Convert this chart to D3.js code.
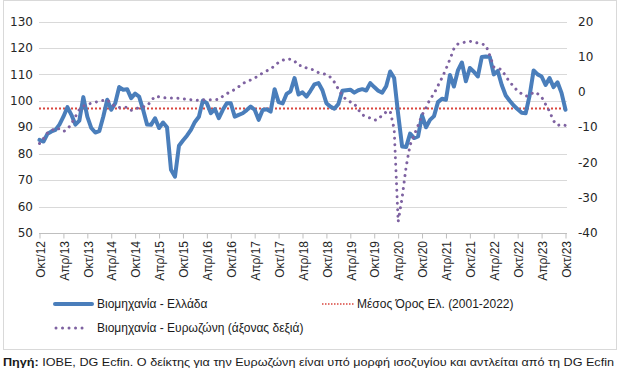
<!DOCTYPE html>
<html><head><meta charset="utf-8">
<script src="https://cdn.jsdelivr.net/npm/d3@7"></script>
<style>body{margin:0;background:#fff}svg{display:block}</style>
</head><body>
<script>
// Monthly data, Oct 2012 .. Oct 2023 (133 months)
const greece = [
 85.2,84.6,87.5,88.4,89,91,94,97.6,94.7,91,92.5,101.4,
 94,89.7,88,88.5,94,100.4,96.6,99.1,105.2,104.2,104.4,101,
 102.7,101.6,96.6,91,90.9,93.4,89.7,91.8,90,73.9,71.3,83,
 85,86.8,89,92,94,100.1,99.1,95.3,96.9,93.4,96.6,99.1,
 99.1,94,94.7,95.3,96.5,97.8,96.6,92.8,96.5,96.8,95.9,104.4,
 99.5,99,102.6,103.6,108.6,102.4,103.2,101.6,103.8,106.2,106.7,104,
 99.1,97.8,97,98.8,103.8,104,104.2,103.1,104,104.4,103.9,106.7,
 105.2,103.8,103.1,105.5,111.1,108.6,95,82.7,82.5,87.6,85.9,86.5,
 94.5,90,92.8,94.2,99.5,100.8,100.4,109.8,105.4,111.5,114.5,107.4,
 112.4,111,109.2,116.6,116.8,116.6,110,111.3,106,102,100,98.2,
 96.8,95.5,95.3,102,111.5,110,109.2,106,108.6,105.2,107,103,96.6
];
const eurozone = [
 -14.6,-13.2,-11.6,-11,-10.2,-10.5,-11.2,-10.6,-9,-7,-5,-4,
 -3.5,-3.2,-2.9,-2.6,-2.4,-2.2,-3.3,-4.2,-4.4,-4.3,-4.3,-5.2,
 -4.9,-4.4,-4.2,-4,-2.5,-1.2,-1.4,-1.6,-1.7,-1.7,-1.7,-1.8,
 -1.9,-2.1,-2.2,-2.4,-2.3,-2.2,-2.2,-2.2,-2.2,-2.1,-1.2,-0.5,
 0.2,0.7,1.5,2.4,3,3.4,4,4.6,5.4,6,6.5,7.5,
 8.4,9,9.4,9.3,8.8,7.5,7.5,6.8,6.5,6.2,5.5,5.2,
 5,4.2,2.8,0.8,-1,-2.2,-2.8,-3.3,-5,-6.5,-6.9,-7.4,
 -8,-7.8,-6.5,-5.7,-5.4,-10.5,-36.8,-30,-21.3,-15,-12.3,-9.5,
 -6.5,-4.5,-2,-0.5,1.8,4,6.5,9.3,12.3,13.6,13.9,14.2,
 14.4,14.1,13.9,13.6,13.3,10.4,7.1,6.8,6.3,4.5,2.8,1.6,
 0.2,-0.5,-1.2,-1,0,-0.5,-1.4,-3.5,-5.5,-8.2,-9.5,-9.2,-9.5
];
const greeceAverage = 97.1;
const tickLabels = ["Οκτ/12","Απρ/13","Οκτ/13","Απρ/14","Οκτ/14","Απρ/15","Οκτ/15","Απρ/16",
 "Οκτ/16","Απρ/17","Οκτ/17","Απρ/18","Οκτ/18","Απρ/19","Οκτ/19","Απρ/20","Οκτ/20","Απρ/21",
 "Οκτ/21","Απρ/22","Οκτ/22","Απρ/23","Οκτ/23"];
const leftTicks = [50,60,70,80,90,100,110,120,130];
const rightTicks = [-40,-30,-20,-10,0,10,20];
const legendLabels = ["Βιομηχανία  - Ελλάδα","Μέσος Όρος Ελ. (2001-2022)","Βιομηχανία - Ευρωζώνη (άξονας δεξιά)"];
const sourceBold = "Πηγή:";
const sourceText = " ΙΟΒΕ, DG Ecfin. Ο δείκτης για την Ευρωζώνη είναι υπό μορφή ισοζυγίου και αντλείται από τη DG Ecfin";

const W = 623, H = 372;
const blue = "#4A7EBB", purple = "#7E62A1", red = "#D9463E";
const svg = d3.select("body").append("svg").attr("width", W).attr("height", H);

// chart border
svg.append("rect").attr("x",3.5).attr("y",0.5).attr("width",613).attr("height",349)
  .attr("fill","#fff").attr("stroke","#d9d9d9");

const x = d3.scaleLinear().domain([0, greece.length - 1]).range([39.5, 565.5]);
const yL = d3.scaleLinear().domain([50,130]).range([233,21.5]);
const yR = d3.scaleLinear().domain([-40,20]).range([233,21.5]);

// gridlines
svg.append("g").selectAll("line").data(leftTicks.slice(1)).join("line")
  .attr("x1",39).attr("x2",567)
  .attr("y1",d=>Math.round(yL(d))+0.5).attr("y2",d=>Math.round(yL(d))+0.5)
  .attr("stroke","#d9d9d9").attr("stroke-width",1);

// left axis labels
svg.append("g").selectAll("text").data(leftTicks).join("text")
  .attr("x",33).attr("y",d=>yL(d)).attr("dy","0.35em").attr("text-anchor","end")
  .attr("font-family","DejaVu Sans").attr("font-size",12).attr("fill","#262626")
  .text(d=>d);
// right axis labels
svg.append("g").selectAll("text").data(rightTicks).join("text")
  .attr("x",578).attr("y",d=>yR(d)).attr("dy","0.35em").attr("text-anchor","start")
  .attr("font-family","DejaVu Sans").attr("font-size",12).attr("fill","#262626")
  .text(d=>d);

// x axis
const xTickIdx = tickLabels.map((_, i) => i * 6);
const xAxis = d3.axisBottom(x).tickValues(xTickIdx).tickSize(5).tickFormat("");
const gx = svg.append("g").attr("transform","translate(0,233.5)").call(xAxis);
gx.select(".domain").attr("stroke","#bfbfbf").attr("d","M39,0H567");
gx.selectAll(".tick line").attr("stroke","#bfbfbf");
svg.append("g").selectAll("text").data(xTickIdx).join("text")
  .attr("transform",d=>`translate(${x(d)+1},241) rotate(-90)`)
  .attr("text-anchor","end").attr("dy","0.35em")
  .attr("font-family","Liberation Sans").attr("font-size",12).attr("fill","#262626")
  .text((d,i)=>tickLabels[i]);

// average line
svg.append("line").attr("x1",39).attr("x2",567)
  .attr("y1",yL(greeceAverage)).attr("y2",yL(greeceAverage))
  .attr("stroke",red).attr("stroke-width",2).attr("stroke-dasharray","2 2");

// Greece line
const lineL = d3.line().x((d,i)=>x(i)).y(d=>yL(d)).curve(d3.curveLinear);
svg.append("path").datum(greece).attr("d",lineL)
  .attr("fill","none").attr("stroke",blue).attr("stroke-width",4)
  .attr("stroke-linejoin","round").attr("stroke-linecap","round");

// Eurozone dotted line
const lineR = d3.line().x((d,i)=>x(i)).y(d=>yR(d));
svg.append("path").datum(eurozone).attr("d",lineR)
  .attr("fill","none").attr("stroke",purple).attr("stroke-width",3)
  .attr("stroke-dasharray","0.01 6.5").attr("stroke-linecap","round");

// legend
const lg = svg.append("g").attr("font-family","Liberation Sans").attr("font-size",12).attr("fill","#1a1a1a");
lg.append("line").attr("x1",55).attr("x2",92).attr("y1",304).attr("y2",304)
  .attr("stroke",blue).attr("stroke-width",4).attr("stroke-linecap","round");
lg.append("text").attr("x",97).attr("y",304).attr("dy","0.35em").text(legendLabels[0]);
lg.append("line").attr("x1",322).attr("x2",354).attr("y1",304).attr("y2",304)
  .attr("stroke",red).attr("stroke-width",1.5).attr("stroke-dasharray","1.5 1.5");
lg.append("text").attr("x",357).attr("y",304).attr("dy","0.35em").text(legendLabels[1]);
lg.append("line").attr("x1",56).attr("x2",86).attr("y1",328).attr("y2",328)
  .attr("stroke",purple).attr("stroke-width",3).attr("stroke-dasharray","0.01 6.5").attr("stroke-linecap","round");
lg.append("text").attr("x",97).attr("y",328).attr("dy","0.35em").text(legendLabels[2]);

// source
const src = svg.append("text").attr("x",3).attr("y",366)
  .attr("font-family","Liberation Sans").attr("font-size",11.5).attr("fill","#1a1a1a")
  .attr("textLength",611).attr("lengthAdjust","spacingAndGlyphs");
src.append("tspan").attr("font-weight","bold").text(sourceBold);
src.append("tspan").text(sourceText);
</script>
</body></html>
